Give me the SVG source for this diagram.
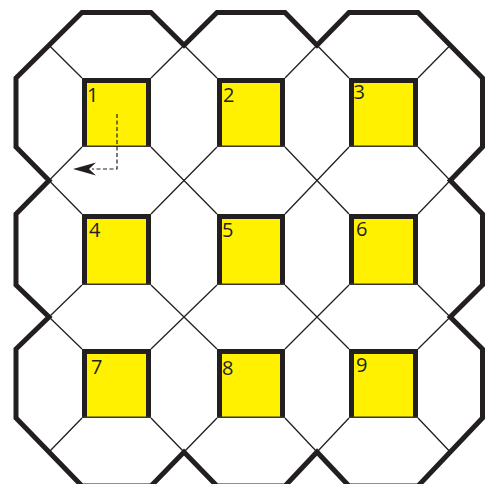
<svg xmlns="http://www.w3.org/2000/svg" width="485" height="484" viewBox="0 0 485 484">
<defs>
<style>
.outline{fill:none;stroke:#231f20;stroke-width:5;stroke-linejoin:miter;stroke-miterlimit:10}
.thin{fill:none;stroke:#231f20;stroke-width:1.3}
.sq{fill:#fff100;stroke:none}
.sqb{fill:none;stroke:#231f20;stroke-width:5;stroke-linejoin:miter}
.sqbot{fill:none;stroke:#3a3637;stroke-width:1.5}
.lbl{font-family:"Open Sans","Liberation Sans",sans-serif;font-size:20px;fill:#231f20}
.dash{fill:none;stroke:#231f20;stroke-width:1.2;stroke-dasharray:4 2.5}
</style>
</defs>
<rect width="485" height="484" fill="#ffffff"/>
<g id="octagons">
<path class="outline" d="M16,78 L82,12.5 L151,12.5 L184,45.25 L217,12.5 L285,12.5 L317,45.25 L349,12.5 L418,12.5 L482.5,78 L482.5,147 L450.25,180.5 L482.5,214 L482.5,285 L450.25,317 L482.5,349 L482.5,418 L418,486 L349,486 L317,452 L285,486 L217,486 L184,452 L151,486 L82,486 L16,418 L16,349 L49,317 L16,285 L16,214 L49,180.5 L16,147 Z"/>
<path class="thin" d="M82,78 L49,45.25 M418,78 L450.25,45.25 M82,418 L49,452 M418,418 L450.25,452
M151,78 L184,45.25 L217,78 M285,78 L317,45.25 L349,78
M151,418 L184,452 L217,418 M285,418 L317,452 L349,418
M82,147 L49,180.5 L82,214 M82,285 L49,317 L82,349
M418,147 L450.25,180.5 L418,214 M418,285 L450.25,317 L418,349
M151,147 L217,214 M217,147 L151,214
M285,147 L349,214 M349,147 L285,214
M151,285 L217,349 M217,285 L151,349
M285,285 L349,349 M349,285 L285,349"/>
</g>
<g id="node1">
<rect class="sq" x="82" y="78" width="69" height="69"/>
<path class="sqb" d="M84.5,147 V80.5 H148.5 V147"/>
<path class="sqbot" d="M82,146.3 H151"/>
<text class="lbl" x="87" y="102">1</text>
</g>
<g id="node2">
<rect class="sq" x="217" y="78" width="68" height="69"/>
<path class="sqb" d="M219.5,147 V80.5 H282.5 V147"/>
<path class="sqbot" d="M217,146.3 H285"/>
<text class="lbl" x="223" y="102">2</text>
</g>
<g id="node3">
<rect class="sq" x="349" y="78" width="69" height="69"/>
<path class="sqb" d="M351.5,147 V80.5 H415.5 V147"/>
<path class="sqbot" d="M349,146.3 H418"/>
<text class="lbl" x="353.5" y="98.5">3</text>
</g>
<g id="node4">
<rect class="sq" x="82" y="214" width="69" height="71"/>
<path class="sqb" d="M84.5,285 V216.5 H148.5 V285"/>
<path class="sqbot" d="M82,284.3 H151"/>
<text class="lbl" x="89" y="237">4</text>
</g>
<g id="node5">
<rect class="sq" x="217" y="214" width="68" height="71"/>
<path class="sqb" d="M219.5,285 V216.5 H282.5 V285"/>
<path class="sqbot" d="M217,284.3 H285"/>
<text class="lbl" x="222" y="237">5</text>
</g>
<g id="node6">
<rect class="sq" x="349" y="214" width="69" height="71"/>
<path class="sqb" d="M351.5,285 V216.5 H415.5 V285"/>
<path class="sqbot" d="M349,284.3 H418"/>
<text class="lbl" x="356" y="236">6</text>
</g>
<g id="node7">
<rect class="sq" x="82" y="349" width="69" height="69"/>
<path class="sqb" d="M84.5,418 V351.5 H148.5 V418"/>
<path class="sqbot" d="M82,417.3 H151"/>
<text class="lbl" x="91" y="374">7</text>
</g>
<g id="node8">
<rect class="sq" x="217" y="349" width="68" height="69"/>
<path class="sqb" d="M219.5,418 V351.5 H282.5 V418"/>
<path class="sqbot" d="M217,417.3 H285"/>
<text class="lbl" x="222" y="375">8</text>
</g>
<g id="node9">
<rect class="sq" x="349" y="349" width="69" height="69"/>
<path class="sqb" d="M351.5,418 V351.5 H415.5 V418"/>
<path class="sqbot" d="M349,417.3 H418"/>
<text class="lbl" x="356" y="372">9</text>
</g>
<g id="connectors">
<path class="dash" d="M117,114 V169 H92"/>
<path d="M73,169 L96,162.5 L89,169 L96,175.5 Z" fill="#231f20"/>
</g>
</svg>
